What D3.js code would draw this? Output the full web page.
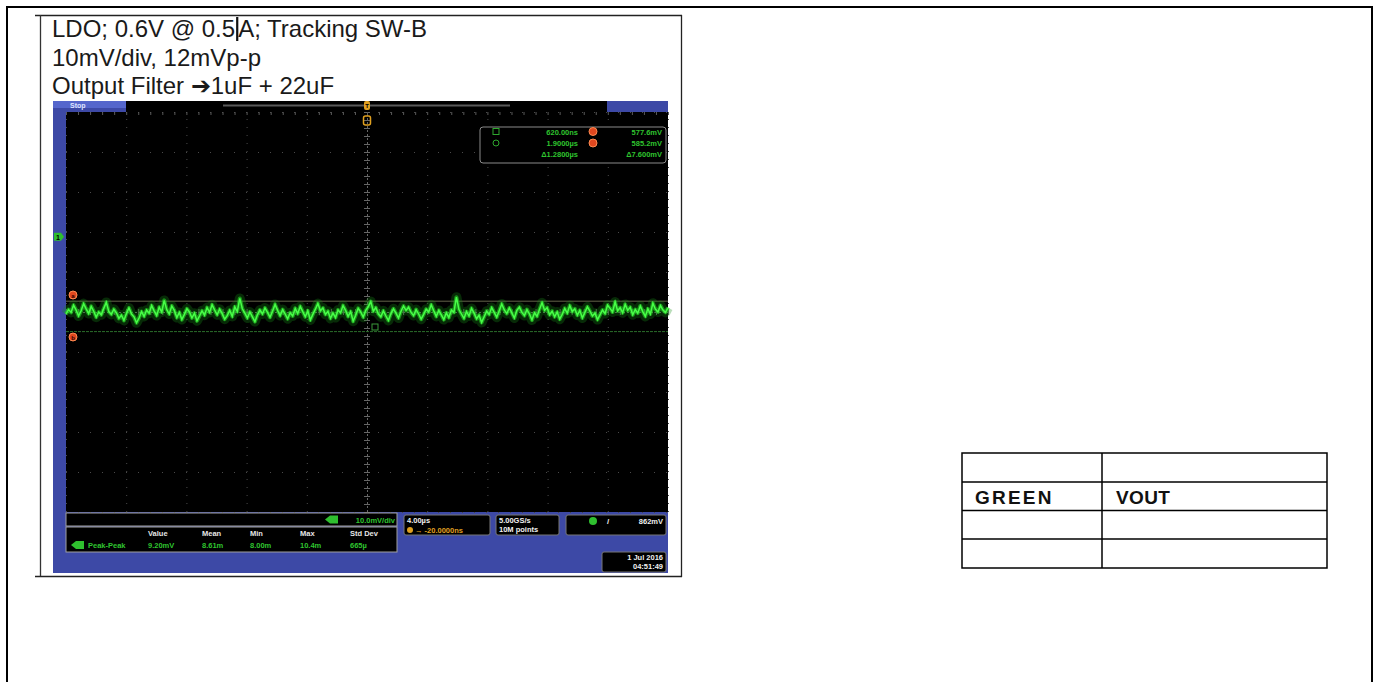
<!DOCTYPE html>
<html><head><meta charset="utf-8">
<script src="https://cdn.jsdelivr.net/npm/d3@7"></script>
<style>html,body{margin:0;padding:0;background:#fff;overflow:hidden}</style>
</head><body><svg id="c" width="1379" height="682"></svg>
<script>
// ---------------- data ----------------
const titleLines = ["LDO; 0.6V @ 0.5", "A; Tracking SW-B", "10mV/div, 12mVp-p", "Output Filter \u27941uF + 22uF"];
const timeDomain = [-20, 20];          // µs, 4.00 µs/div
const timeTicks = [-20,-16,-12,-8,-4,0,4,8,12,16,20];
const voltDomain = [532.5, 632.5];     // mV, 10 mV/div
const voltTicks = [532.5,542.5,552.5,562.5,572.5,582.5,592.5,602.5,612.5,622.5,632.5];
const groundMarkerLevel = 601.3;       // mV, channel 1 marker on the left
const cursorLevels = [577.6, 585.2];   // mV, horizontal bar cursors a/b
const traceValues = [
582.0,583.1,582.4,584.2,583.0,581.5,582.8,584.6,583.3,582.1,583.9,582.7,581.2,582.5,581.8,583.4,584.9,582.6,581.9,583.2,
582.3,580.9,581.7,580.4,582.1,583.5,582.0,581.3,579.8,581.0,582.6,581.4,583.0,582.2,584.1,582.8,581.6,583.7,582.5,585.4,
583.1,582.0,584.0,582.9,581.1,582.4,580.6,581.9,583.3,582.5,581.0,582.2,580.3,581.5,582.8,581.7,583.6,582.4,584.3,583.0,
581.8,583.2,582.1,580.7,581.6,582.9,581.4,583.8,582.6,585.9,583.3,582.2,581.0,582.5,581.3,580.1,581.8,583.0,582.0,583.5,
582.4,581.2,582.7,584.4,582.9,581.6,583.1,582.0,580.8,582.3,581.5,583.4,582.1,583.9,582.6,581.3,582.8,580.5,581.9,583.2,
584.6,582.8,583.5,581.9,582.7,580.9,582.2,581.1,583.0,582.3,584.1,582.9,581.4,582.6,580.2,581.7,583.4,582.5,581.2,582.9,
583.8,585.1,582.7,583.6,582.0,581.3,582.8,581.5,580.4,582.1,583.3,582.2,581.0,582.7,584.0,582.9,583.7,582.4,581.6,583.1,
582.0,580.7,581.9,583.2,582.5,584.3,582.8,581.4,582.9,581.8,580.6,582.3,581.1,583.0,582.4,586.2,583.1,582.0,580.9,582.6,
581.5,583.4,582.2,580.8,581.7,579.9,581.3,582.7,581.9,583.6,582.4,581.2,582.8,584.5,583.0,582.1,583.5,582.3,581.0,582.9,
583.7,582.4,581.6,583.1,582.0,580.5,582.3,581.4,583.2,584.8,582.9,583.6,581.8,582.7,581.3,582.5,580.7,581.9,583.4,582.2,
584.1,582.6,583.3,581.7,582.9,581.0,582.4,583.8,582.7,581.5,582.2,580.6,581.8,583.0,582.1,584.2,583.4,582.5,585.0,582.8,
583.6,582.3,584.4,582.9,583.7,581.8,583.1,582.2,584.0,582.6,581.4,583.3,582.0,584.7,583.2,582.5,584.1,583.0,582.4,583.6
];
const cursorTimeText = ["620.00ns", "1.9000\u00b5s", "\u03941.2800\u00b5s"];
const cursorVoltText = ["577.6mV", "585.2mV", "\u03947.600mV"];
const measHeaders = ["Value", "Mean", "Min", "Max", "Std Dev"];
const measRow = ["Peak-Peak", "9.20mV", "8.61m", "8.00m", "10.4m", "665\u00b5"];
const channelScale = "10.0mV/div";
const timebaseText = ["4.00\u00b5s", "\u2192 -20.0000ns"];
const acqText = ["5.00GS/s", "10M points"];
const trigLevel = "862mV";
const dateText = ["1 Jul  2016", "04:51:49"];
const tableCells = [["", ""], ["GREEN", "VOUT"], ["", ""], ["", ""]];

// ---------------- drawing ----------------
const svg = d3.select("#c");
const F = "'Liberation Sans', Arial, sans-serif";

// page frame
svg.append("path").attr("d","M7,682 V7 H1372 V682").attr("fill","none").attr("stroke","#000").attr("stroke-width",2);

// image box
svg.append("rect").attr("x",40).attr("y",16).attr("width",641).attr("height",560).attr("fill","#fff");
svg.append("line").attr("x1",35).attr("x2",682).attr("y1",15.5).attr("y2",15.5).attr("stroke","#222").attr("stroke-width",1.3);
svg.append("line").attr("x1",35).attr("x2",682).attr("y1",576.5).attr("y2",576.5).attr("stroke","#222").attr("stroke-width",1.3);
svg.append("line").attr("x1",40.5).attr("x2",40.5).attr("y1",15).attr("y2",576).attr("stroke","#333").attr("stroke-width",1.3);
svg.append("line").attr("x1",681.5).attr("x2",681.5).attr("y1",15).attr("y2",577).attr("stroke","#222").attr("stroke-width",1.3);

// title text
const TS = 24, TX = 52;
const t1 = svg.append("text").attr("x",TX).attr("y",37).attr("font-family",F).attr("font-size",TS).attr("fill","#1a1a1a").text(titleLines[0]);
const w1 = t1.node().getComputedTextLength();
svg.append("rect").attr("x",TX+w1+1).attr("y",17).attr("width",2.2).attr("height",24).attr("fill","#111");
svg.append("text").attr("x",TX+w1+3).attr("y",37).attr("font-family",F).attr("font-size",TS).attr("fill","#1a1a1a").text(titleLines[1]);
svg.append("text").attr("x",TX).attr("y",65.5).attr("font-family",F).attr("font-size",TS).attr("fill","#1a1a1a").text(titleLines[2]);
svg.append("text").attr("x",TX).attr("y",94).attr("font-family",F).attr("font-size",TS).attr("fill","#1a1a1a").text(titleLines[3]);

// scope screen
const S = svg.append("g");
const blue = "#3d49a6";
S.append("rect").attr("x",53).attr("y",101).attr("width",615).attr("height",472).attr("fill",blue);
S.append("rect").attr("x",126).attr("y",101).attr("width",481).attr("height",11).attr("fill","#000");
S.append("rect").attr("x",53).attr("y",101).attr("width",73).attr("height",7).attr("fill","#5566cc");
S.append("text").attr("x",70).attr("y",107.5).attr("font-family",F).attr("font-size",7).attr("font-weight","bold").attr("fill","#dfe4ff").text("Stop");
S.append("rect").attr("x",223).attr("y",104.5).attr("width",287).attr("height",2).attr("fill","#5a5a5a");

const gridL = 66, gridR = 668, gridT = 112, gridB = 512;
S.append("rect").attr("x",gridL).attr("y",gridT).attr("width",gridR-gridL).attr("height",gridB-gridT).attr("fill","#000");

const x = d3.scaleLinear().domain(timeDomain).range([gridL, gridR]);
const y = d3.scaleLinear().domain(voltDomain).range([gridB, gridT]);

// grid
const gxv = S.append("g").attr("transform",`translate(0,${gridB})`)
  .call(d3.axisBottom(x).tickValues(timeTicks).tickSize(-(gridB-gridT)).tickFormat(""));
gxv.select(".domain").remove();
gxv.selectAll("line").attr("stroke","#4a4a4a").attr("stroke-dasharray","1,7");
const gyh = S.append("g").attr("transform",`translate(${gridL},0)`)
  .call(d3.axisLeft(y).tickValues(voltTicks).tickSize(-(gridR-gridL)).tickFormat(""));
gyh.select(".domain").remove();
gyh.selectAll("line").attr("stroke","#4a4a4a").attr("stroke-dasharray","1,11");
// center minor ticks
const minorV = d3.range(voltDomain[0], voltDomain[1]+0.01, 2);
const minorT = d3.range(timeDomain[0], timeDomain[1]+0.01, 0.8);
[d3.axisLeft(y), d3.axisRight(y)].forEach(ax => {
  const g = S.append("g").attr("transform",`translate(${x(0)},0)`).call(ax.tickValues(minorV).tickSize(3).tickFormat(""));
  g.select(".domain").attr("stroke","#666").attr("stroke-dasharray","1,3");
  g.selectAll("line").attr("stroke","#666");
});
[d3.axisTop(x), d3.axisBottom(x)].forEach(ax => {
  const g = S.append("g").attr("transform",`translate(0,${y(582.5)})`).call(ax.tickValues(minorT).tickSize(3).tickFormat(""));
  g.select(".domain").attr("stroke","#666").attr("stroke-dasharray","1,3");
  g.selectAll("line").attr("stroke","#666");
});
{
  const g = S.append("g").attr("transform",`translate(0,${gridT})`).call(d3.axisBottom(x).tickValues(minorT).tickSize(3).tickFormat(""));
  g.select(".domain").remove(); g.selectAll("line").attr("stroke","#5a5a5a");
}

// cursor lines
S.append("line").attr("x1",gridL).attr("x2",gridR).attr("y1",y(cursorLevels[1])).attr("y2",y(cursorLevels[1]))
  .attr("stroke","#7d7d5c").attr("stroke-width",1).attr("opacity",0.8);
S.append("line").attr("x1",gridL).attr("x2",gridR).attr("y1",y(cursorLevels[0])).attr("y2",y(cursorLevels[0]))
  .attr("stroke","#2a6e2a").attr("stroke-width",1).attr("stroke-dasharray","3,1");

// trace
const tx = d3.scaleLinear().domain([0, traceValues.length-1]).range(timeDomain);
const line = d3.line().x((d,i)=>x(tx(i))).y(d=>y(d));
S.append("path").datum(traceValues).attr("d",line).attr("fill","none").attr("stroke","#169016").attr("stroke-width",10).attr("opacity",0.3).attr("stroke-linejoin","round");
S.append("path").datum(traceValues).attr("d",line).attr("fill","none").attr("stroke","#22c822").attr("stroke-width",4).attr("opacity",0.65).attr("stroke-linejoin","round");
S.append("path").datum(traceValues).attr("d",line).attr("fill","none").attr("stroke","#48ff48").attr("stroke-width",1.5);

// small cursor box at center
S.append("rect").attr("x",372).attr("y",324).attr("width",6).attr("height",6).attr("fill","none").attr("stroke","#3a9a3a");

// markers
S.append("path").attr("d",`M54,${y(groundMarkerLevel)-4} h7 l3,4 l-3,4 h-7 z`).attr("fill","#2fbf2f");
S.append("text").attr("x",56).attr("y",y(groundMarkerLevel)+3).attr("font-family",F).attr("font-size",7).attr("font-weight","bold").attr("fill","#000").text("1");
[[cursorLevels[1], 295, "a"], [cursorLevels[0], 337, "b"]].forEach(([v,cy,l])=>{
  S.append("circle").attr("cx",73).attr("cy",cy).attr("r",4).attr("fill","#e0471f").attr("stroke","#ff8a50");
  S.append("text").attr("x",73).attr("y",cy+2.5).attr("text-anchor","middle").attr("font-family",F).attr("font-size",6).attr("font-weight","bold").attr("fill","#300").text(l);
});
// trigger markers
S.append("rect").attr("x",x(0)-3).attr("y",101).attr("width",6).attr("height",9).attr("rx",2).attr("fill","#e0a020");
S.append("text").attr("x",x(0)).attr("y",108).attr("text-anchor","middle").attr("font-family",F).attr("font-size",6).attr("font-weight","bold").attr("fill","#000").text("T");
S.append("rect").attr("x",x(0)-3.5).attr("y",116).attr("width",7).attr("height",9).attr("rx",2).attr("fill","none").attr("stroke","#e0a020").attr("stroke-width",1.5);

// cursor readout box
S.append("rect").attr("x",480).attr("y",127).attr("width",186).attr("height",36).attr("rx",3).attr("fill","#000").attr("stroke","#8a8a8a");
const rows = [134.5, 146, 157];
S.append("rect").attr("x",493).attr("y",rows[0]-6).attr("width",6).attr("height",6).attr("fill","none").attr("stroke","#2ea82e");
S.append("circle").attr("cx",496).attr("cy",rows[1]-3).attr("r",3).attr("fill","none").attr("stroke","#2ea82e");
cursorTimeText.forEach((t,i)=>S.append("text").attr("x",578).attr("y",rows[i]).attr("text-anchor","end").attr("font-family",F).attr("font-size",7.5).attr("font-weight","bold").attr("fill","#2fc42f").text(t));
cursorVoltText.forEach((t,i)=>S.append("text").attr("x",662).attr("y",rows[i]).attr("text-anchor","end").attr("font-family",F).attr("font-size",7.5).attr("font-weight","bold").attr("fill","#2fc42f").text(t));
["a","b"].forEach((l,i)=>{
  S.append("circle").attr("cx",593).attr("cy",rows[i]-3).attr("r",4).attr("fill","#e0471f").attr("stroke","#ff8a50");
});

// bottom panel: channel bar
S.append("rect").attr("x",66).attr("y",513).attr("width",331).attr("height",13).attr("fill","#000").attr("stroke","#a0a0a0");
S.append("path").attr("d","M325,519.5 l5,-4 h8 v8 h-8 z").attr("fill","#2fbf2f");
S.append("text").attr("x",395).attr("y",523).attr("text-anchor","end").attr("font-family",F).attr("font-size",7.5).attr("font-weight","bold").attr("fill","#2fc42f").text(channelScale);

// measurement box
S.append("rect").attr("x",66).attr("y",527).attr("width",331).attr("height",25).attr("fill","#000").attr("stroke","#a0a0a0");
const mx = [148, 202, 250, 300, 350];
measHeaders.forEach((h,i)=>S.append("text").attr("x",mx[i]).attr("y",536).attr("font-family",F).attr("font-size",7.5).attr("font-weight","bold").attr("fill","#e6e6e6").text(h));
S.append("path").attr("d","M71,545 l5,-4 h8 v8 h-8 z").attr("fill","#2fbf2f");
S.append("text").attr("x",88).attr("y",548).attr("font-family",F).attr("font-size",7.5).attr("font-weight","bold").attr("fill","#2fc42f").text(measRow[0]);
measRow.slice(1).forEach((v,i)=>S.append("text").attr("x",mx[i]).attr("y",548).attr("font-family",F).attr("font-size",7.5).attr("font-weight","bold").attr("fill","#2fc42f").text(v));

// timebase box
S.append("rect").attr("x",404).attr("y",515).attr("width",86).attr("height",20).attr("rx",2).attr("fill","#000").attr("stroke","#777");
S.append("text").attr("x",407).attr("y",523).attr("font-family",F).attr("font-size",7.5).attr("font-weight","bold").attr("fill","#f0f0f0").text(timebaseText[0]);
S.append("circle").attr("cx",410).attr("cy",530).attr("r",3).attr("fill","#e0a020");
S.append("text").attr("x",415).attr("y",533).attr("font-family",F).attr("font-size",7.5).attr("font-weight","bold").attr("fill","#e0a020").text(timebaseText[1]);

// acquisition box
S.append("rect").attr("x",496).attr("y",515).attr("width",63).attr("height",20).attr("rx",2).attr("fill","#000").attr("stroke","#777");
acqText.forEach((t,i)=>S.append("text").attr("x",499).attr("y",523+9*i).attr("font-family",F).attr("font-size",7.5).attr("font-weight","bold").attr("fill","#f0f0f0").text(t));

// trigger box
S.append("rect").attr("x",566).attr("y",515).attr("width",100).attr("height",20).attr("rx",2).attr("fill","#000").attr("stroke","#777");
S.append("circle").attr("cx",593).attr("cy",521).attr("r",4).attr("fill","#2fbf2f");
S.append("text").attr("x",607).attr("y",524).attr("font-family",F).attr("font-size",8).attr("font-weight","bold").attr("fill","#f0f0f0").text("/");
S.append("text").attr("x",663).attr("y",524).attr("text-anchor","end").attr("font-family",F).attr("font-size",7.5).attr("font-weight","bold").attr("fill","#f0f0f0").text(trigLevel);

// date box
S.append("rect").attr("x",602).attr("y",552).attr("width",64).attr("height",20).attr("rx",2).attr("fill","#000").attr("stroke","#777");
dateText.forEach((t,i)=>S.append("text").attr("x",663).attr("y",560+9*i).attr("text-anchor","end").attr("font-family",F).attr("font-size",7.5).attr("font-weight","bold").attr("fill","#f0f0f0").text(t));

// ---------------- legend table ----------------
const T = svg.append("g");
const colX = [962, 1102, 1327];
const rowY = [453, 482, 510.5, 539, 568];
T.append("rect").attr("x",colX[0]).attr("y",rowY[0]).attr("width",colX[2]-colX[0]).attr("height",rowY[4]-rowY[0]).attr("fill","none").attr("stroke","#000").attr("stroke-width",1.5);
rowY.slice(1,4).forEach(ry=>T.append("line").attr("x1",colX[0]).attr("x2",colX[2]).attr("y1",ry).attr("y2",ry).attr("stroke","#000").attr("stroke-width",1.5));
T.append("line").attr("x1",colX[1]).attr("x2",colX[1]).attr("y1",rowY[0]).attr("y2",rowY[4]).attr("stroke","#000").attr("stroke-width",1.5);
tableCells.forEach((r,ri)=>r.forEach((c,ci)=>{
  if(!c) return;
  T.append("text").attr("x",colX[ci]+(ci===0?13:14)).attr("y",rowY[ri]+22).attr("font-family",F).attr("font-size",19).attr("font-weight","bold")
   .attr("letter-spacing",ci===0?2.2:0.4).attr("fill","#111").text(c);
}));
</script></body></html>
